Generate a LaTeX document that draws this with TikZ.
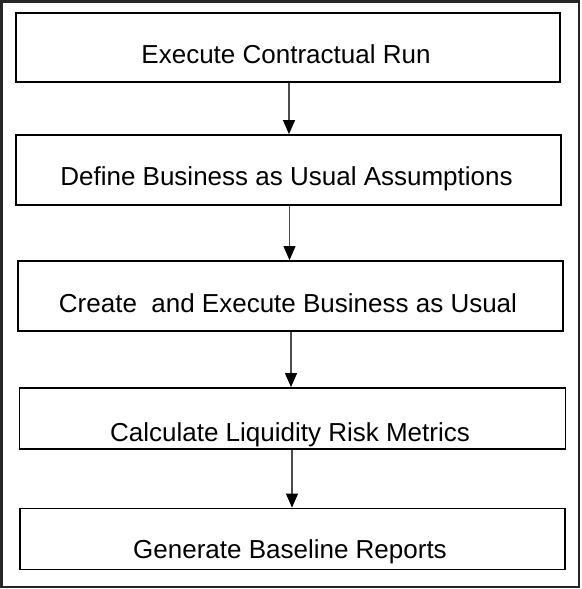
\documentclass[tikz,border=0pt]{standalone}
\usepackage{fontspec}
\setmainfont{Liberation Sans}
\usetikzlibrary{arrows.meta}

\tikzset{
	stepbox/.style={draw=black, line width=1.8pt, inner sep=0pt, anchor=center},
	steptext/.style={anchor=base, inner sep=0pt, font=\fontsize{26}{30}\selectfont},
	flow/.style={draw=black!70, line width=1.1pt, -{Triangle[length=14pt,width=12pt,fill=black,color=black]}}
}

\begin{document}
\begin{tikzpicture}[x=1pt,y=-1pt]

		\useasboundingbox (0,0) rectangle (581,589);
		\draw[black!85, line width=2.5pt] (1.5,1.5) rectangle (579,587);

		\node[stepbox, minimum width=544pt, minimum height=69pt] (contract) at (288,47.5) {};
		\node[stepbox, minimum width=545pt, minimum height=70pt] (assume) at (288.5,170) {};
		\node[stepbox, minimum width=545pt, minimum height=70pt] (create) at (290.5,296) {};
		\node[stepbox, minimum width=546pt, minimum height=61pt] (metrics) at (292.5,418.5) {};
		\node[stepbox, minimum width=545pt, minimum height=61pt] (reports) at (292.5,539) {};

		\node[steptext] (contracttxt) at (286,63.3) {Execute Contractual Run};
		\node[steptext] (assumetxt) at (286.5,185.8) {Define Business as Usual Assumptions};
		\node[steptext] (createtxt) at (288,312.3) {Create\ \ and Execute Business as Usual};
		\node[steptext] (metricstxt) at (290,441.3) {Calculate Liquidity Risk Metrics};
		\node[steptext] (reportstxt) at (290,558.8) {Generate Baseline Reports};

		\draw[flow] (contract.south -| 289,0) -- (assume.north -| 289,0);
		\draw[flow] (assume.south -| 289.5,0) -- (create.north -| 289.5,0);
		\draw[flow] (create.south -| 291,0) -- (metrics.north -| 291,0);
		\draw[flow] (metrics.south -| 292,0) -- (reports.north -| 292,0);
	\end{tikzpicture}
\end{document}
